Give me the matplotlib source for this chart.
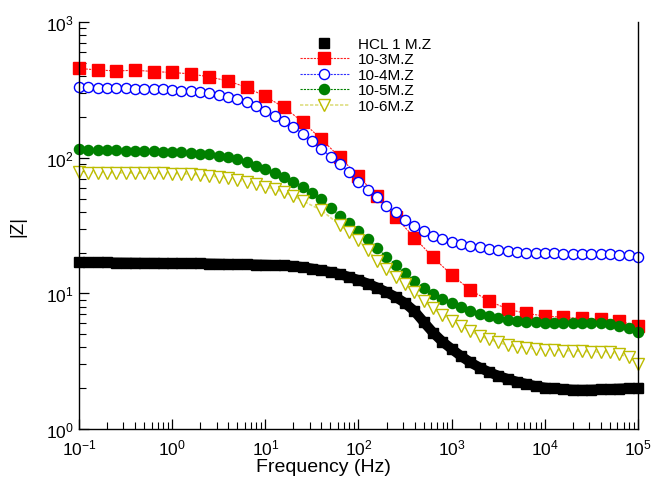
import numpy as np
import matplotlib
matplotlib.use("Agg")
import matplotlib.pyplot as plt

plt.rcParams['font.family'] = ['Liberation Sans', 'DejaVu Sans']
plt.rcParams['mathtext.default'] = 'regular'

# frequency sweeps (log spaced)
freq_10 = np.logspace(-1, 5, 61)   # 10 points per decade
freq_5 = np.logspace(-1, 5, 31)    # 5 points per decade
# 10-6 curve misses two sweep points (10^1.5 and 10^1.7)
freq_10_6 = np.delete(freq_10, [25, 27])

hcl_1m = [16.92, 16.92, 16.89, 16.89, 16.87, 16.84, 16.81, 16.78, 16.78, 16.75, 16.72,
          16.70, 16.67, 16.64, 16.58, 16.53, 16.47, 16.42, 16.36, 16.31, 16.25,
          16.17, 16.06, 15.90, 15.63, 15.23, 14.80, 14.35, 13.88, 13.19, 12.53,
          11.81, 11.03, 10.22, 9.39, 8.48, 7.40, 6.15, 5.14, 4.41, 3.89,
          3.45, 3.10, 2.84, 2.63, 2.47, 2.34, 2.23, 2.15, 2.07, 2.02,
          1.99, 1.97, 1.95, 1.945, 1.95, 1.96, 1.97, 1.985, 1.995, 2.005]

z_1e3 = [455, 444, 436, 442, 432, 425, 415, 394, 368, 330, 283,
         235, 184, 137, 101, 72.8, 52.4, 36.3, 25.8, 18.4, 13.7,
         10.6, 8.8, 7.66, 7.11, 6.81, 6.65, 6.53, 6.47, 6.28, 5.71]

z_1e4 = [330, 335, 327, 326, 326, 324, 322, 322, 320, 319, 316,
         313, 310, 304, 298, 288, 280, 269, 256, 241, 222,
         203, 186, 169, 149, 133, 116, 102, 89.8, 78, 66.4,
         58, 51, 44.2, 39.5, 34.9, 31.5, 28.9, 26.6, 25.1, 24,
         23.1, 22.2, 21.8, 21.4, 20.9, 20.6, 20.3, 20.0, 19.8, 19.8,
         19.7, 19.6, 19.6, 19.5, 19.5, 19.4, 19.4, 19.2, 19.1, 18.6]

z_1e5 = [115.7, 114.8, 114.1, 113.8, 113.2, 112.8, 112.2, 111.8, 111.5, 110.9, 110.3,
         109.6, 108.7, 107.2, 105.9, 103.6, 101.9, 98.1, 93.6, 87.5, 82.4,
         77.7, 72.6, 66.7, 60.7, 55.3, 49.5, 42.9, 37.4, 33.0, 28.9,
         25.1, 21.6, 18.5, 16.3, 14.1, 12.4, 11.0, 9.88, 9.08, 8.44,
         7.89, 7.44, 7.04, 6.84, 6.58, 6.39, 6.28, 6.18, 6.11, 6.09,
         6.07, 6.06, 6.04, 6.04, 6.04, 6.01, 5.94, 5.77, 5.52, 5.16]

z_1e6 = [77.9, 77.7, 77.7, 77.4, 77.4, 77.3, 77.0, 77.0, 76.7, 76.6, 76.4,
         76.2, 75.7, 74.8, 73.6, 72.2, 70.7, 68.7, 66.1, 63.9, 61.0,
         58.7, 55.5, 52.4, 48.1, 41.1, 31.9, 28.3, 24.7,
         20.8, 17.4, 15.1, 13.2, 11.7, 10.2, 8.78, 7.79, 6.92, 6.28,
         5.77, 5.30, 4.87, 4.60, 4.35, 4.16, 4.04, 3.95, 3.89, 3.84,
         3.82, 3.78, 3.76, 3.74, 3.71, 3.69, 3.67, 3.57, 3.38, 3.01]

fig = plt.figure(figsize=(6.53, 4.81), dpi=100)
ax = fig.add_axes([0.121, 0.106, 0.856, 0.846])

# HCL: dense squares form a thick band
ax.plot(freq_10, hcl_1m, '-', lw=7.2, color='black', clip_on=False)
ax.plot(freq_10, hcl_1m, linestyle='none', marker='s', ms=7.3,
        color='black', mec='black', label='HCL 1 M.Z', clip_on=False)
ax.plot(freq_5, z_1e3, linestyle=(0, (2, 1)), lw=0.8, color='#ff2020',
        marker='s', ms=8, mfc='#ff0000', mec='#ff0000',
        label='10-3M.Z', clip_on=False)
ax.plot(freq_10, z_1e4, linestyle=(0, (2, 1)), lw=0.8, color='#3030ff',
        marker='o', ms=7.3, mfc='white', mec='#0000ff', mew=1.0,
        label='10-4M.Z', clip_on=False)
ax.plot(freq_10, z_1e5, linestyle=(0, (2, 1)), lw=0.8, color='#008000',
        marker='o', ms=7.3, mfc='#008000', mec='#008000',
        label='10-5M.Z', clip_on=False)
ax.plot(freq_10_6, z_1e6, linestyle=(0, (2, 1)), lw=1.2, color='#dede80',
        marker='v', ms=8, mfc='white', mec='#bcbc00', mew=1.0,
        label='10-6M.Z', clip_on=False)

ax.set_xscale('log')
ax.set_yscale('log')
ax.set_xlim(1e-1, 1e5)
ax.set_ylim(1, 1e3)

ax.spines['top'].set_visible(False)
for s in ['left', 'bottom', 'right']:
    ax.spines[s].set_linewidth(1.0)
    ax.spines[s].set_color('black')

ax.tick_params(axis='both', which='major', direction='in', length=7.5,
               width=0.9, labelsize=12.5, right=False, top=False)
ax.tick_params(axis='both', which='minor', direction='in', length=5,
               width=0.8, right=False, top=False)
ax.tick_params(axis='x', which='major', pad=6)
ax.tick_params(axis='y', which='major', pad=4)

ax.set_xlabel('Frequency (Hz)', fontsize=14)
ax.xaxis.set_label_coords(0.437, -0.072)
ax.set_ylabel('|Z|', fontsize=13.5, labelpad=14)

ax.legend(loc='upper left', bbox_to_anchor=(0.376, 0.99), frameon=False,
          fontsize=11, handlelength=3.2, labelspacing=0.1,
          handletextpad=0.6, borderpad=0.2)

fig.savefig('out.png', dpi=100)
